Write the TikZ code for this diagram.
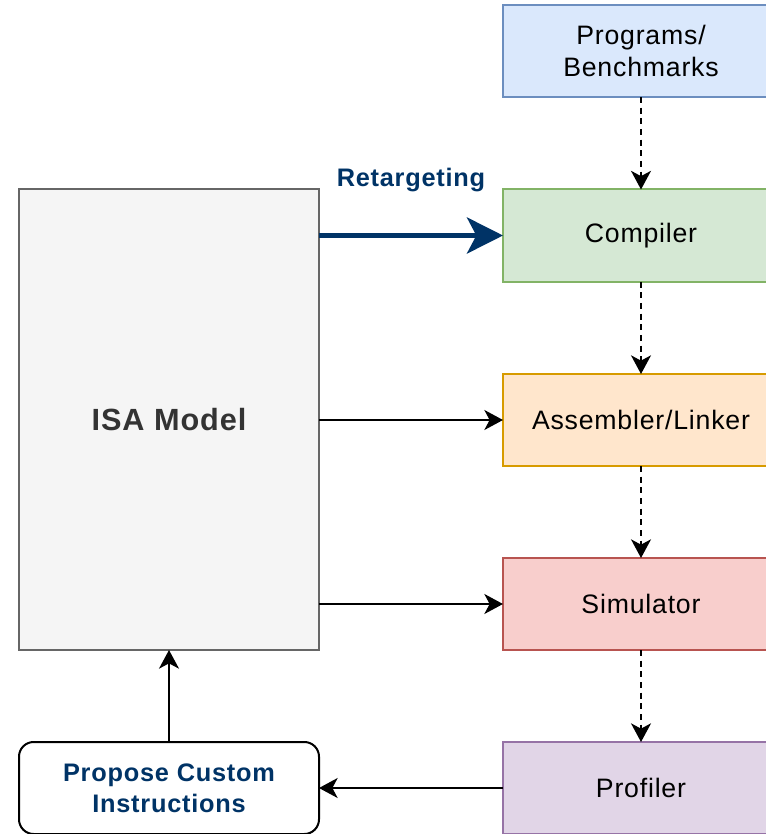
\documentclass[tikz,border=0pt]{standalone}
\usepackage{fontspec}
\setmainfont{Liberation Sans}[LetterSpace=3]
\usetikzlibrary{arrows.meta}

\definecolor{progfill}{HTML}{DAE8FC}
\definecolor{progline}{HTML}{6C8EBF}
\definecolor{compfill}{HTML}{D5E8D4}
\definecolor{compline}{HTML}{82B366}
\definecolor{asmfill}{HTML}{FFE6CC}
\definecolor{asmline}{HTML}{D79B00}
\definecolor{simfill}{HTML}{F8CECC}
\definecolor{simline}{HTML}{B85450}
\definecolor{proffill}{HTML}{E1D5E7}
\definecolor{profline}{HTML}{9673A6}
\definecolor{isafill}{HTML}{F5F5F5}
\definecolor{isaline}{HTML}{666666}
\definecolor{isatext}{HTML}{333333}
\definecolor{navy}{HTML}{003366}

\begin{document}
\begin{tikzpicture}[x=0.75pt, y=-0.75pt,
  >={Stealth[length=14pt,width=15pt,inset=4pt]},
  stage/.style={draw, line width=1.5pt, minimum width=207pt, minimum height=69pt,
    inner sep=0pt, outer sep=0pt, align=center, font=\fontsize{20}{24}\selectfont},
  flow/.style={->, line width=1.5pt, dash pattern=on 4.5pt off 3.5pt},
  feed/.style={->, line width=1.5pt}]
  \useasboundingbox (0,0) rectangle (766,834);
  \clip (0,0) rectangle (766,834);
  % tool chain
  \node[stage, fill=progfill, draw=progline] (prog) at (641,51) {Programs/\\Benchmarks};
  \node[stage, fill=compfill, draw=compline] (comp) at (641,235.5) {Compiler};
  \node[stage, fill=asmfill, draw=asmline] (asm) at (641,420) {Assembler/Linker};
  \node[stage, fill=simfill, draw=simline] (sim) at (641,604) {Simulator};
  \node[stage, fill=proffill, draw=profline] (prof) at (641,788) {Profiler};
  % model and feedback
  \node[draw=isaline, fill=isafill, line width=1.5pt, minimum width=225pt,
    minimum height=345.75pt, inner sep=0pt, outer sep=0pt, text=isatext,
    font=\fontsize{23}{26}\selectfont\bfseries] (isa) at (169,419.5) {ISA Model};
  \node[draw, rounded corners=11pt, line width=1.5pt, minimum width=225pt,
    minimum height=69pt, inner sep=0pt, outer sep=0pt, align=center, text=navy,
    font=\fontsize{19}{23}\selectfont\bfseries] (prop) at (169,788) {Propose Custom\\Instructions};
  % connectors
  \draw[flow] (prog) -- (comp);
  \draw[flow] (comp) -- (asm);
  \draw[flow] (asm) -- (sim);
  \draw[flow] (sim) -- (prof);
  \draw[navy, line width=3.75pt, -{Stealth[length=27pt,width=27pt,inset=7pt]}]
    (isa.east |- comp.west) -- node[above=31pt, inner sep=0pt, text=navy,
    font=\fontsize{19}{22}\selectfont\bfseries] {Retargeting} (comp.west);
  \draw[feed] (isa.east |- asm.west) -- (asm.west);
  \draw[feed] (isa.east |- sim.west) -- (sim.west);
  \draw[feed] (prof.west) -- (prop.east);
  \draw[feed] (prop.north) -- (isa.south);
\end{tikzpicture}
\end{document}
